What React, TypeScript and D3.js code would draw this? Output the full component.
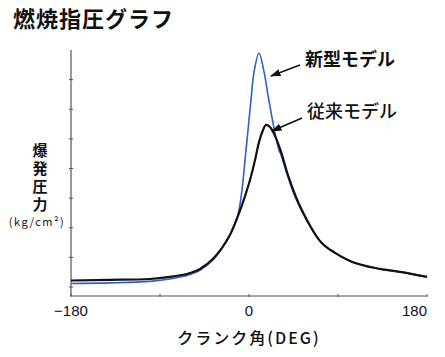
import React from "react";
import * as d3 from "d3";

const W = 445;
const H = 357;

// x: crank angle (deg), y: pressure (arbitrary units, ticks 0..7)
const oldAngle = [-180, -140.6, -100.1, -79.9, -59.7, -49.6, -36.4, -27.3, -19.2, -11.1, -4.0, 1.0, 6.1, 10.1, 14.2, 17.2, 21.2, 26.3, 32.4, 39.4, 47.5, 58.6, 71.8, 87.0, 102.1, 132.5, 152.7, 180];
const oldValue = [0.22, 0.24, 0.27, 0.34, 0.47, 0.61, 0.95, 1.32, 1.76, 2.40, 3.07, 3.61, 4.29, 4.89, 5.30, 5.47, 5.40, 5.10, 4.56, 3.78, 3.04, 2.26, 1.55, 1.15, 0.88, 0.61, 0.51, 0.34];

const newAngle = [-180, -140.6, -100.1, -79.9, -59.7, -49.6, -36.4, -27.3, -19.2, -11.1, -7.1, -4.0, -1.0, 2.0, 5.1, 10.1, 15.2, 19.2, 23.3, 27.3, 30.3, 32.4, 39.4, 47.5, 58.6, 71.8, 87.0, 102.1, 132.5, 152.7, 180];
const newValue = [0.12, 0.14, 0.19, 0.27, 0.42, 0.56, 0.91, 1.32, 1.76, 2.46, 3.27, 4.29, 5.30, 6.31, 7.26, 7.9, 7.26, 6.48, 5.71, 5.03, 4.62, 4.46, 3.71, 2.97, 2.23, 1.55, 1.15, 0.88, 0.61, 0.51, 0.34];

const xTicks = [-180, -90, 0, 90, 180];
const xTickLabels = ["−180", "0", "180"];
const xLabelValues = [-180, 0, 180];
const yTicks = [0, 1, 2, 3, 4, 5, 6, 7];

const titleText = "燃焼指圧グラフ";
const yLabelText = "爆発圧力";
const yUnit = "(kg/cm²)";
const xLabelText = "クランク角(DEG)";
const newLabel = "新型モデル";
const oldLabel = "従来モデル";

const JP = "'Noto Sans CJK JP', 'Noto Sans', sans-serif";

export default function App() {
  const x = d3.scaleLinear().domain([-180, 180]).range([71, 427]);
  const y = d3.scaleLinear().domain([0, 8]).range([287, 50]);

  const lineOld = d3
    .line<[number, number]>()
    .x((d) => x(d[0]))
    .y((d) => y(d[1]))
    .curve(d3.curveMonotoneX);

  const lineNew = d3
    .line<[number, number]>()
    .x((d) => x(d[0]))
    .y((d) => y(d[1]))
    .curve(d3.curveCatmullRom.alpha(0.5));

  const oldPts: [number, number][] = oldAngle.map((a, i) => [a, oldValue[i]]);
  const newPts: [number, number][] = newAngle.map((a, i) => [a, newValue[i]]);

  const x0 = x(-180);
  const yBottom = 296;

  return (
    <svg
      width={W}
      height={H}
      style={{ position: "absolute", left: 0, top: 0, background: "#fff" }}
    >
      <defs>
        <marker id="arr" viewBox="0 0 10 10" refX="9" refY="5" markerWidth="7" markerHeight="7" orient="auto">
          <path d="M0,1.5 L10,5 L0,8.5 z" fill="#111" />
        </marker>
      </defs>
      <text x={13} y={27} fontFamily={JP} fontWeight={700} fontSize={22} fill="#111" letterSpacing={1}>
        {titleText}
      </text>

      {/* axes */}
      <line x1={x0} x2={x0} y1={y(8)} y2={yBottom} stroke="#555" strokeWidth={1.2} />
      <line x1={x0} x2={x(180)} y1={yBottom} y2={yBottom} stroke="#555" strokeWidth={1.2} />
      {yTicks.map((t) => (
        <line key={"yt" + t} x1={x0 - 2} x2={x0 + 2} y1={y(t)} y2={y(t)} stroke="#555" strokeWidth={1} />
      ))}
      {xTicks.map((t) => (
        <line key={"xt" + t} x1={x(t)} x2={x(t)} y1={yBottom - 2} y2={yBottom + 1} stroke="#555" strokeWidth={1} />
      ))}
      {xLabelValues.map((v, i) => (
        <text
          key={"xl" + v}
          x={x(v)}
          y={316}
          textAnchor={i === 2 ? "end" : "middle"}
          fontFamily="'Liberation Sans', Arial, sans-serif"
          fontSize={15}
          fill="#111"
        >
          {xTickLabels[i]}
        </text>
      ))}

      {/* y label */}
      <text
        x={40}
        y={143}
        fontFamily={JP}
        fontWeight={700}
        fontSize={15}
        fill="#111"
        letterSpacing={3}
        style={{ writingMode: "vertical-rl" } as React.CSSProperties}
      >
        {yLabelText}
      </text>
      <text x={37} y={226} textAnchor="middle" fontFamily={JP} fontSize={11} letterSpacing={1.5} fill="#111">
        {yUnit}
      </text>

      {/* x label */}
      <text x={249} y={344} textAnchor="middle" fontFamily={JP} fontWeight={500} fontSize={16} fill="#111" letterSpacing={2}>
        {xLabelText}
      </text>

      {/* curves */}
      <path d={lineNew(newPts) || ""} fill="none" stroke="#2f5fc9" strokeWidth={1.6} />
      <path d={lineOld(oldPts) || ""} fill="none" stroke="#111" strokeWidth={2.2} />

      {/* annotations */}
      <line x1={300} y1={65} x2={271} y2={76} stroke="#111" strokeWidth={1.5} markerEnd="url(#arr)" />
      <text x={305} y={66} fontFamily={JP} fontWeight={700} fontSize={18} fill="#111">
        {newLabel}
      </text>
      <line x1={302} y1={118} x2={272} y2={131} stroke="#111" strokeWidth={1.5} markerEnd="url(#arr)" />
      <text x={307} y={118} fontFamily={JP} fontWeight={500} fontSize={18} fill="#111">
        {oldLabel}
      </text>
    </svg>
  );
}
